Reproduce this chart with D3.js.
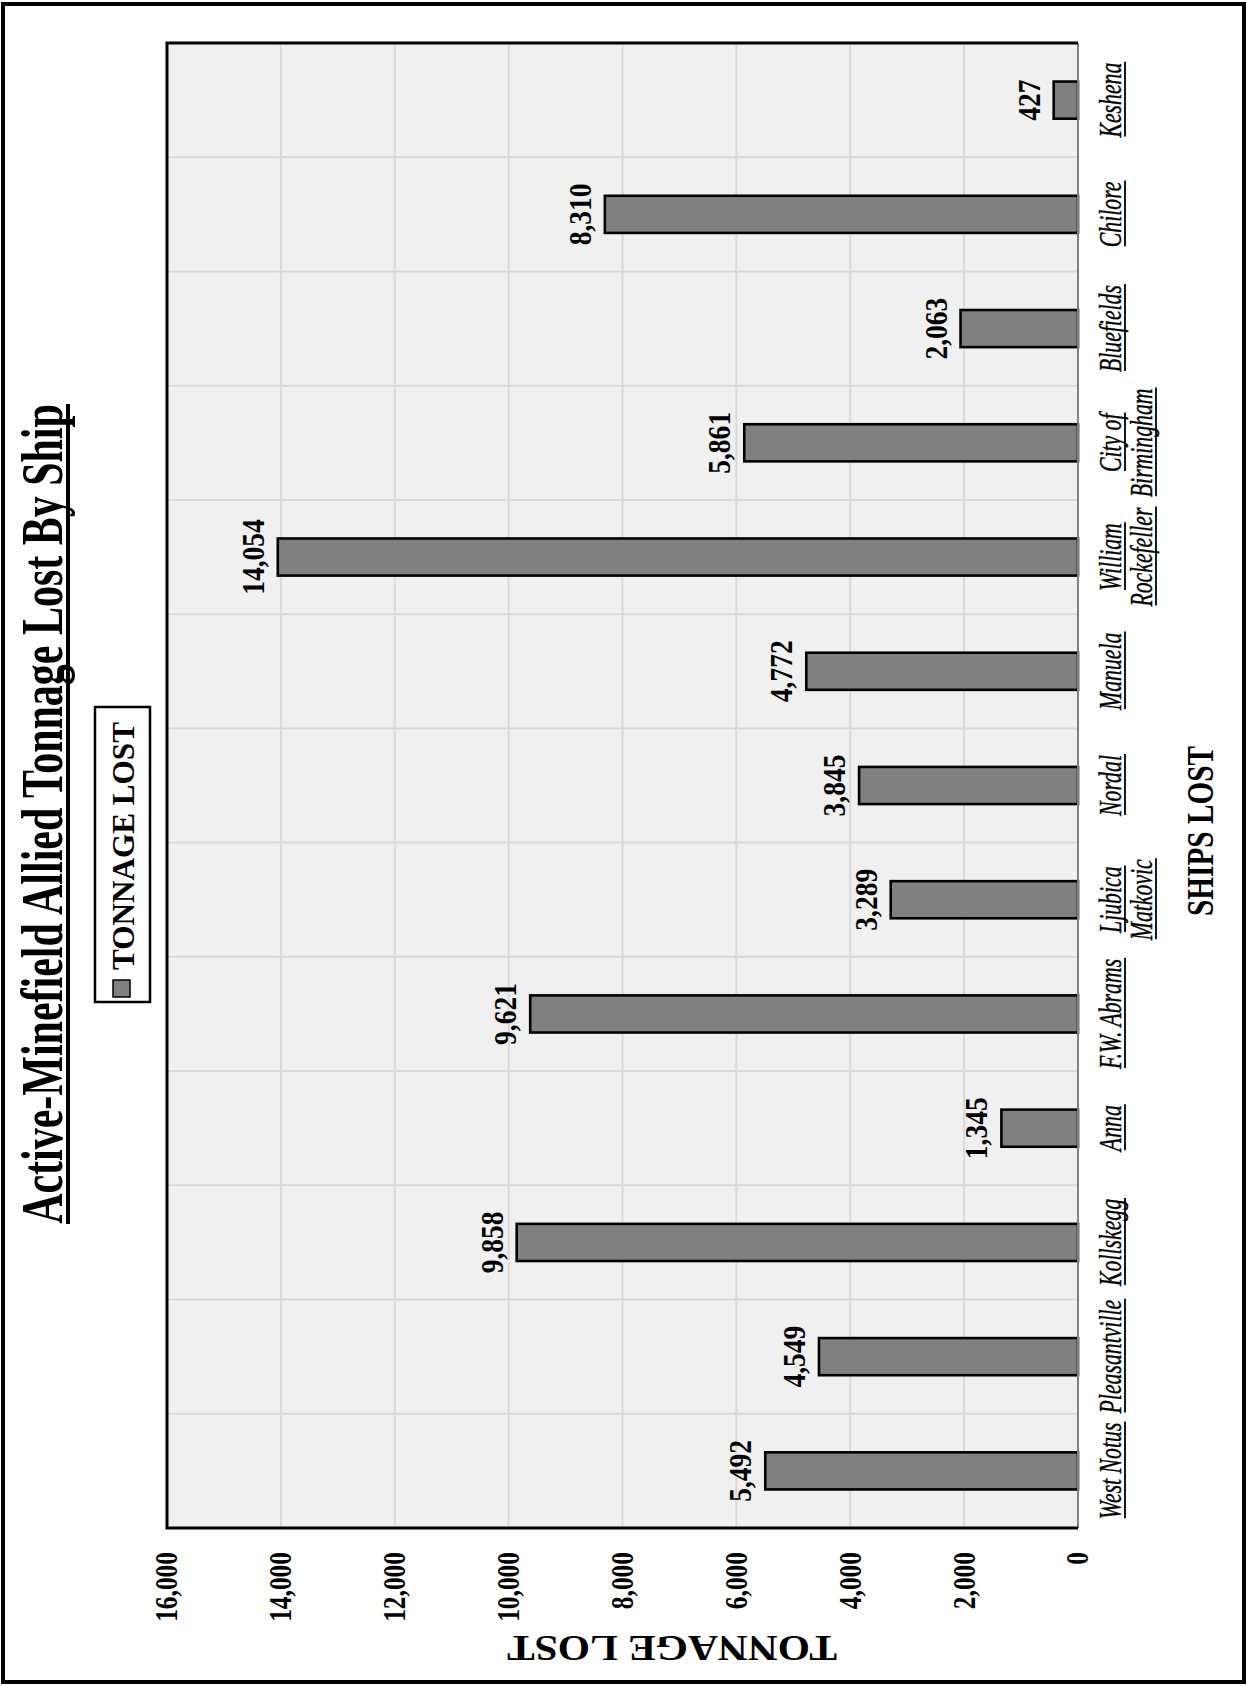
<!DOCTYPE html>
<html><head><meta charset="utf-8">
<script src="https://cdn.jsdelivr.net/npm/d3@7"></script>
<style>
body{margin:0;background:#fff}
text{font-family:"Liberation Serif","Times New Roman",serif}
</style>
</head><body>
<svg id="c" width="1247" height="1686"></svg>
<script>
// ---- data ----
const ships = ["West Notus","Pleasantville","Kollskegg","Anna","F.W. Abrams","Ljubica\nMatkovic","Nordal","Manuela","William\nRockefeller","City of\nBirmingham","Bluefields","Chilore","Keshena"];
const tonnage = [5492,4549,9858,1345,9621,3289,3845,4772,14054,5861,2063,8310,427];
const valueTicks = [0,2000,4000,6000,8000,10000,12000,14000,16000];
const titleText = "Active-Minefield Allied Tonnage Lost By Ship";
const seriesName = "TONNAGE LOST";
const xTitle = "SHIPS LOST";
const yTitle = "TONNAGE LOST";

const data = ships.map((s,i)=>({ship:s, value:tonnage[i]}));

const svg = d3.select("#c");
// outer frame
svg.append("rect").attr("x",3).attr("y",4).attr("width",1241).attr("height",1678)
  .attr("fill","#fff").attr("stroke","#000").attr("stroke-width",4);

// chart drawn unrotated, then turned 90deg counter-clockwise
const g = svg.append("g").attr("transform","translate(0,1686) rotate(-90)");
const pL=158, pR=1643, pT=167, pB=1078;

const x = d3.scaleBand().domain(ships).range([pL,pR]).padding(0);
const y = d3.scaleLinear().domain([0,16000]).range([pB,pT]);

// plot background
g.append("rect").attr("x",pL).attr("y",pT).attr("width",pR-pL).attr("height",pB-pT).attr("fill","#f0f0f0");

// gridlines
g.append("g").selectAll("line").data(valueTicks.filter(t=>t>0 && t<16000)).join("line")
  .attr("x1",pL).attr("x2",pR).attr("y1",d=>y(d)).attr("y2",d=>y(d))
  .attr("stroke","#d9d9d9").attr("stroke-width",2);
g.append("g").selectAll("line").data(ships.slice(1)).join("line")
  .attr("x1",d=>x(d)).attr("x2",d=>x(d)).attr("y1",pT).attr("y2",pB)
  .attr("stroke","#d9d9d9").attr("stroke-width",2);

// bars
const bw = x.bandwidth()*0.325;
g.append("g").selectAll("rect").data(data).join("rect")
  .attr("x",d=>x(d.ship)+x.bandwidth()/2-bw/2).attr("width",bw)
  .attr("y",d=>y(d.value)).attr("height",d=>y(0)-y(d.value))
  .attr("fill","#808080").attr("stroke","#000").attr("stroke-width",2.6);

// plot frame
g.append("line").attr("x1",pL).attr("x2",pR).attr("y1",pB).attr("y2",pB)
  .attr("stroke","#7f7f7f").attr("stroke-width",2);
g.append("path").attr("d",`M${pL},${pB}V${pT}H${pR}V${pB}`)
  .attr("fill","none").attr("stroke","#000").attr("stroke-width",3);

// data labels
const kLab = 0.86;
g.append("g").selectAll("text").data(data).join("text")
  .attr("transform",d=>`translate(${x(d.ship)+x.bandwidth()/2},${y(d.value)-14}) scale(${kLab},1)`)
  .attr("text-anchor","middle").attr("font-size",32).attr("font-weight","bold").attr("fill","#000")
  .text(d=>d3.format(",")(d.value));

// value axis
const kTick = 0.82, pad = 24;
const ya = g.append("g").attr("transform",`translate(${pL},0)`)
  .call(d3.axisLeft(y).tickValues(valueTicks).tickFormat(d3.format(",")).tickSize(0).tickPadding(pad));
ya.select(".domain").remove();
ya.selectAll("text").attr("font-family",null).attr("font-size",31).attr("font-weight","bold").attr("fill","#000")
  .attr("x",-pad/kTick).attr("transform",`scale(${kTick},1)`);

// category axis (italic, each line underlined)
const kCat = 0.68, catBase = 43, catGap = 31;
const xa = g.append("g").attr("transform",`translate(0,${pB})`)
  .call(d3.axisBottom(x).tickSize(0));
xa.select(".domain").remove();
xa.selectAll(".tick").each(function(d){
  const tick = d3.select(this);
  const t = tick.select("text").attr("font-family",null).attr("font-size",32).attr("font-style","italic")
    .attr("fill","#000").attr("stroke","#000").attr("stroke-width",0.4)
    .attr("y",null).attr("dy",null).attr("transform",`scale(${kCat},1)`);
  t.text(null);
  d.split("\n").forEach((line,i)=>{
    const ts = t.append("tspan").attr("x",0).attr("y",catBase+i*catGap).text(line);
    const len = ts.node().getComputedTextLength()*kCat;
    tick.append("line").attr("x1",-len/2+1).attr("x2",len/2+1)
      .attr("y1",catBase+i*catGap+4).attr("y2",catBase+i*catGap+4)
      .attr("stroke","#000").attr("stroke-width",1.8);
  });
});

// title
const title = g.append("text").attr("font-size",60).attr("font-weight","bold").attr("fill","#000")
  .attr("text-anchor","middle").text(titleText);
const tLen = title.node().getComputedTextLength();
const tTarget = 820, tCenter = 872;
title.attr("transform",`translate(${tCenter},62) scale(${tTarget/tLen},1)`);
g.append("line").attr("x1",tCenter-tTarget/2).attr("x2",tCenter+tTarget/2).attr("y1",68).attr("y2",68)
  .attr("stroke","#000").attr("stroke-width",4);

// legend
const lg = g.append("g");
lg.append("rect").attr("x",684).attr("y",95).attr("width",295).attr("height",55)
  .attr("fill","#fff").attr("stroke","#000").attr("stroke-width",2.5);
lg.append("rect").attr("x",689).attr("y",113).attr("width",17).attr("height",17)
  .attr("fill","#808080").attr("stroke","#000").attr("stroke-width",1.5);
const lt = lg.append("text").attr("font-size",32).attr("font-weight","bold").attr("fill","#000").text(seriesName);
const ltLen = lt.node().getComputedTextLength();
lt.attr("transform",`translate(716,134) scale(${248/ltLen},1)`);

// x axis title
const xt = g.append("text").attr("font-size",39).attr("font-weight","bold").attr("fill","#000")
  .attr("text-anchor","middle").text(xTitle);
const xtLen = xt.node().getComputedTextLength();
xt.attr("transform",`translate(855,1213) scale(${170/xtLen},1)`);

// y axis title
g.append("text").attr("font-size",36).attr("font-weight","bold").attr("fill","#000")
  .attr("text-anchor","middle").attr("textLength",330).attr("lengthAdjust","spacingAndGlyphs")
  .attr("transform",`translate(50,672) rotate(-90)`).text(yTitle);
</script>
</body></html>
